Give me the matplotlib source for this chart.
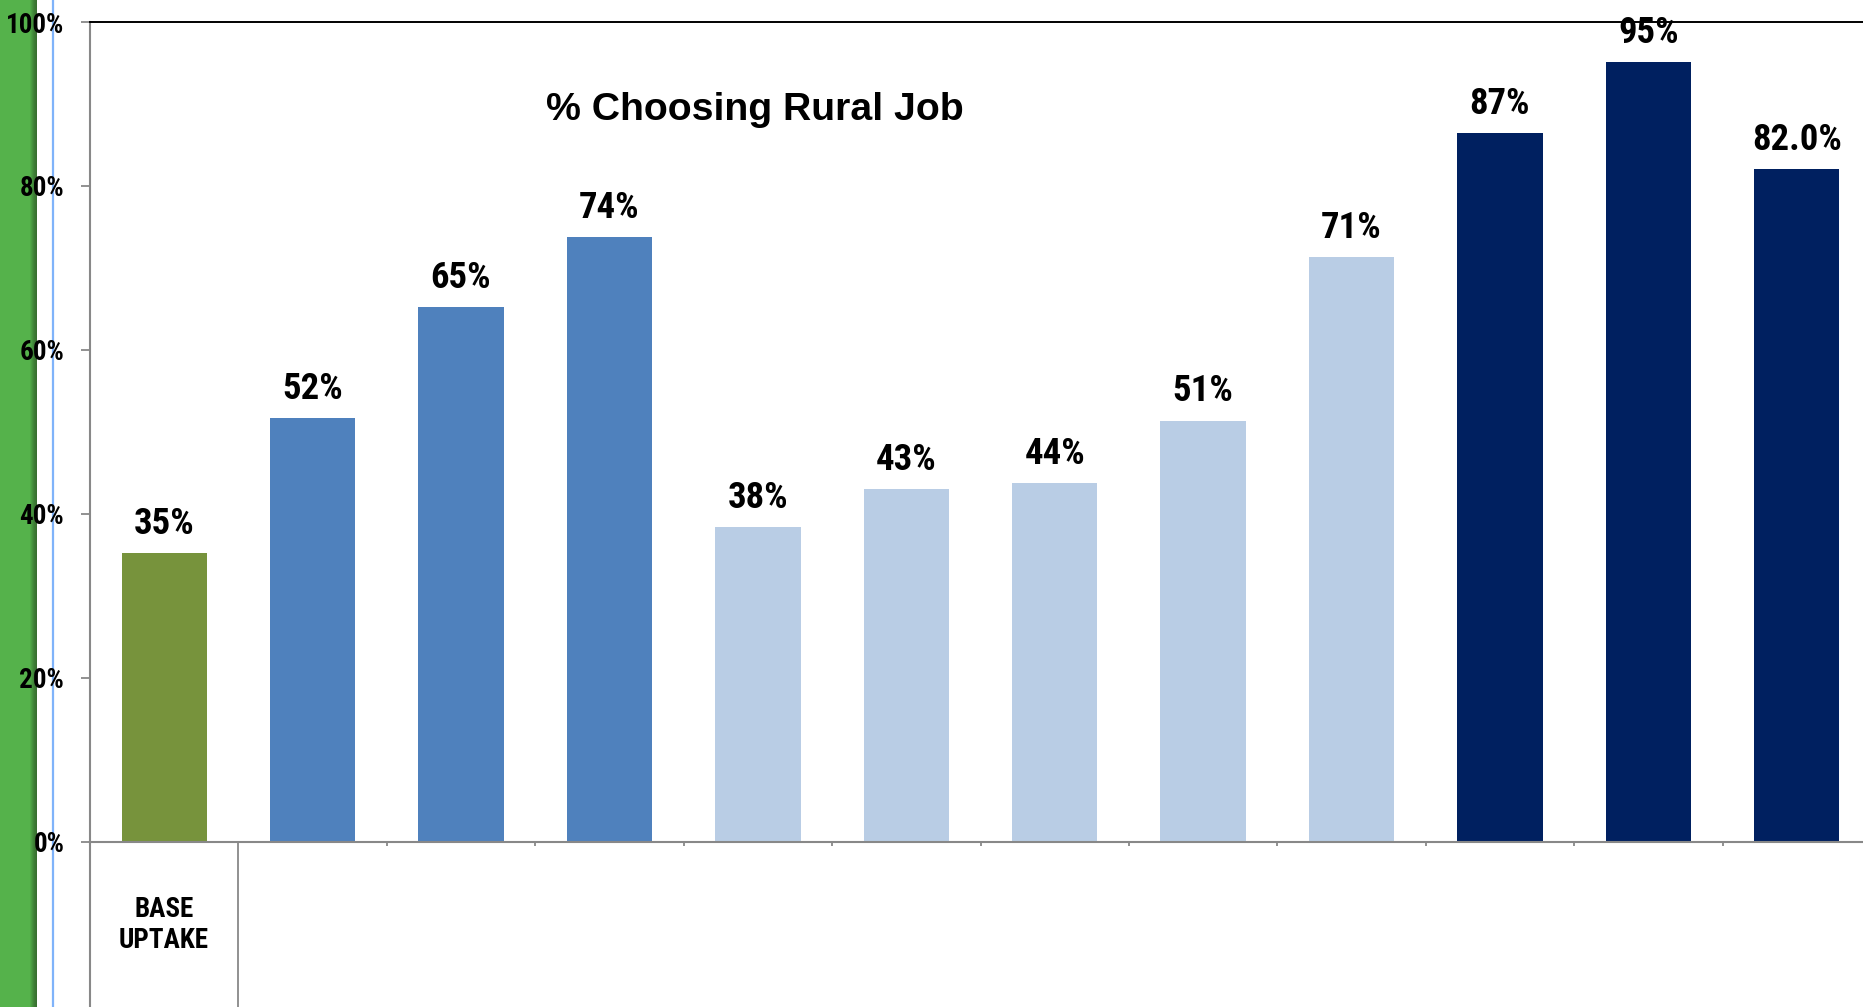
import matplotlib
matplotlib.use("Agg")
import matplotlib.pyplot as plt
from matplotlib.patches import Rectangle
from matplotlib.lines import Line2D
import numpy as np

# ---- data ----
categories = ["BASE\nUPTAKE", "", "", "", "", "", "", "", "", "", "", ""]
values = [35.2, 51.7, 65.3, 73.8, 38.4, 43.1, 43.8, 51.4, 71.3, 86.5, 95.1, 82.1]
value_labels = ["35%", "52%", "65%", "74%", "38%", "43%", "44%", "51%", "71%", "87%", "95%", "82.0%"]
bar_colors = ["#77933C", "#4F81BD", "#4F81BD", "#4F81BD",
              "#B9CDE5", "#B9CDE5", "#B9CDE5", "#B9CDE5", "#B9CDE5",
              "#002060", "#002060", "#002060"]
yticks = [0, 20, 40, 60, 80, 100]
ytick_labels = ["0%", "20%", "40%", "60%", "80%", "100%"]
title = "% Choosing Rural Job"

W, H = 1863, 1007
NARROW = ["Roboto Condensed", "PT Sans Narrow", "Liberation Sans", "DejaVu Sans"]
SANS = ["Liberation Sans", "DejaVu Sans"]

fig = plt.figure(figsize=(W / 100, H / 100), dpi=100)
fig.patch.set_facecolor("white")

# decorative left strip (green band, blue guide line)
fig.patches.append(Rectangle((0, 0), 30 / W, 1, transform=fig.transFigure,
                             facecolor="#55B24B", edgecolor="none", zorder=0))
for i, c in enumerate(["#4FA846", "#4A9C42", "#45903D", "#408538", "#3C7B34", "#3A7532", "#386F30"]):
    fig.patches.append(Rectangle(((30 + i) / W, 0), 1.05 / W, 1, transform=fig.transFigure,
                                 facecolor=c, edgecolor="none", zorder=0))
fig.lines.append(Line2D([53 / W, 53 / W], [0, 1], transform=fig.transFigure,
                        color="#7FB3FA", linewidth=1.6, zorder=0.5))

ax_left, ax_bottom = 90 / W, (H - 842) / H
ax_w, ax_h = 1781 / W, 820 / H
ax = fig.add_axes([ax_left, ax_bottom, ax_w, ax_h])
ax.set_facecolor("none")
ax.set_zorder(3)

x = np.arange(len(values))
ax.bar(x, values, width=0.575, color=bar_colors, zorder=2)
ax.set_xlim(-0.5, len(values) - 0.5)
ax.set_ylim(0, 100)

for xi, v, lab in zip(x, values, value_labels):
    ax.annotate(lab, (xi, v), xytext=(0, 13.7), textcoords="offset points",
                ha="center", va="baseline", fontsize=26.5, fontweight="bold",
                family=NARROW, color="black", zorder=5, annotation_clip=False)

ax.set_yticks(yticks)
ax.set_yticklabels(ytick_labels, fontsize=19.5, fontweight="bold", family=NARROW)
ax.tick_params(axis="y", direction="out", length=6.5, width=1.3, color="#888888", pad=12)

ax.set_xticks(np.arange(1.5, len(values) - 0.5, 1.0))
ax.set_xticklabels([])
ax.tick_params(axis="x", direction="out", length=3, width=1.3, color="#888888")

for s in ["left", "bottom"]:
    ax.spines[s].set_color("#888888")
    ax.spines[s].set_linewidth(1.5)
ax.spines["right"].set_visible(False)
ax.spines["top"].set_color("black")
ax.spines["top"].set_linewidth(1.4)

# category cell below axis
fig.lines.append(Line2D([90 / W, 90 / W], [0, ax_bottom], transform=fig.transFigure,
                        color="#888888", linewidth=1.5, zorder=1))
fig.lines.append(Line2D([238 / W, 238 / W], [0, ax_bottom], transform=fig.transFigure,
                        color="#888888", linewidth=1.3, zorder=1))
fig.text(164 / W, 1 - 925 / H, categories[0], ha="center", va="center",
         fontsize=19.5, fontweight="bold", family=NARROW, linespacing=1.2)

fig.text(755 / W, 1 - 120 / H, title, ha="center", va="baseline",
         fontsize=28.3, fontweight="bold", family=SANS)

fig.savefig("out.png", dpi=100, facecolor="white")
